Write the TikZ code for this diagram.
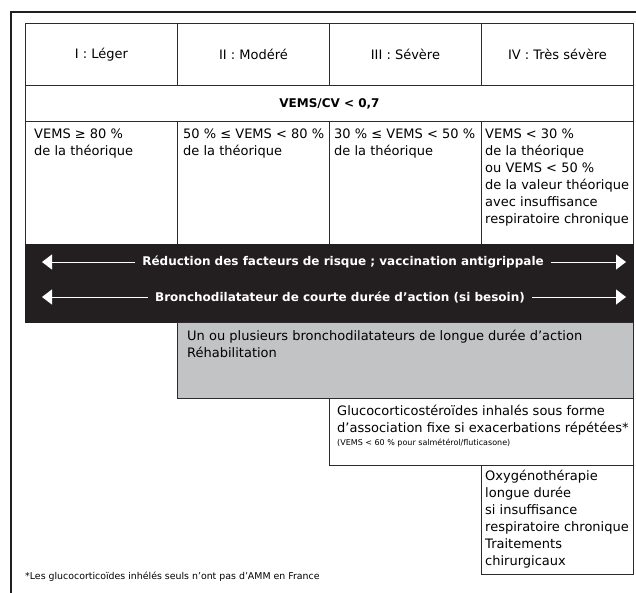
\documentclass[tikz,border=0pt]{standalone}
\usepackage{fontspec}
\setmainfont{DejaVu Sans}
\usetikzlibrary{arrows.meta,positioning}

\definecolor{bandblack}{HTML}{231F20}
\definecolor{boxgrey}{HTML}{C2C3C5}
\definecolor{rulegrey}{HTML}{2B2B2B}

\tikzset{
  cell/.style={draw=rulegrey, line width=0.9pt, inner sep=0pt, anchor=north west},
  headtext/.style={font=\fontsize{13}{16}\selectfont},
  celltext/.style={font=\fontsize{13}{17}\selectfont, align=left, inner sep=0pt, anchor=north west},
  bandtext/.style={font=\bfseries\fontsize{12}{14}\selectfont, text=white, fill=bandblack, inner xsep=7pt},
  bandarrow/.style={draw=white, line width=1pt, -{Triangle[length=10pt,width=15pt]}},
}

\begin{document}
\begin{tikzpicture}[x=1pt,y=-1pt]

    \useasboundingbox (0,0) rectangle (636,592);
    \clip (0,0) rectangle (636,592);

    % outer frame (runs off the right and bottom edges)
    \draw[line width=2.5pt, draw=black!88] (11,12) rectangle (660,620);

    % Row 1: stages
    \foreach \i/\stage in {1/{I : Léger}, 2/{II : Modéré}, 3/{III : Sévère}, 4/{IV : Très sévère}}
        \node[cell, headtext, minimum width=152pt, minimum height=62pt] (head\i) at ({25+152*(\i-1)},23) {\stage};

    % Row 2: ratio
    \node[cell, minimum width=608pt, minimum height=36pt, font=\bfseries\fontsize{12}{14}\selectfont] (ratio) at (25,85) {VEMS/CV < 0,7};

    % Row 3: thresholds
    \foreach \i in {1,...,4}
        \node[cell, minimum width=152pt, minimum height=123pt] (crit\i) at ({25+152*(\i-1)},121) {};

    \node[celltext, below right=8pt and 9pt of crit1.north west] (crit1txt) {VEMS ≥ 80 \%\\de la théorique};
    \node[celltext, below right=8pt and 6pt of crit2.north west] (crit2txt) {50 \% ≤ VEMS < 80 \%\\de la théorique};
    \node[celltext, below right=8pt and 5pt of crit3.north west] (crit3txt) {30 \% ≤ VEMS < 50 \%\\de la théorique};
    \node[celltext, below right=8pt and 4pt of crit4.north west] (crit4txt) {VEMS < 30 \%\\de la théorique\\ou VEMS < 50 \%\\de la valeur théorique\\avec insuffisance\\respiratoire chronique};

    % Black band: treatments for all stages
    \node[cell, draw=bandblack, fill=bandblack, minimum width=608pt, minimum height=78pt] (band) at (25,244) {};

    \node[bandtext] (risk) at (343,262) {Réduction des facteurs de risque ; vaccination antigrippale};
    \coordinate (riskL) at (42,262);
    \coordinate (riskR) at (626,262);
    \draw[bandarrow] (risk.west) -- (riskL);
    \draw[bandarrow] (risk.east) -- (riskR);

    \node[bandtext] (short) at (340,297) {Bronchodilatateur de courte durée d’action (si besoin)};
    \coordinate (shortL) at (42,297);
    \coordinate (shortR) at (626,297);
    \draw[bandarrow] (short.west) -- (shortL);
    \draw[bandarrow] (short.east) -- (shortR);

    % Grey box: stages II to IV
    \node[cell, fill=boxgrey, minimum width=456pt, minimum height=76pt] (longact) at (177,322) {};
    \node[celltext, below right=8pt and 10pt of longact.north west] (longacttxt) {Un ou plusieurs bronchodilatateurs de longue durée d’action\\Réhabilitation};

    % Stages III and IV
    \node[cell, fill=white, minimum width=304pt, minimum height=67pt] (gluco) at (329,398) {};
    \node[celltext, below right=7pt and 8pt of gluco.north west] (glucotxt) {Glucocorticostéroïdes inhalés sous forme\\d’association fixe si exacerbations répétées*\\[-4pt]{\fontsize{8}{10}\selectfont (VEMS < 60 \% pour salmétérol/fluticasone)}};

    % Stage IV only
    \node[cell, fill=white, minimum width=152pt, minimum height=109pt] (oxy) at (481,465) {};
    \node[celltext, below right=5pt and 4pt of oxy.north west] (oxytxt) {Oxygénothérapie\\longue durée\\si insuffisance\\respiratoire chronique\\Traitements\\chirurgicaux};

    % footnote
    \node[anchor=west, inner sep=0pt, font=\fontsize{9.4}{11}\selectfont] (note) at (25,577) {*Les glucocorticoïdes inhélés seuls n’ont pas d’AMM en France};

\end{tikzpicture}
\end{document}
